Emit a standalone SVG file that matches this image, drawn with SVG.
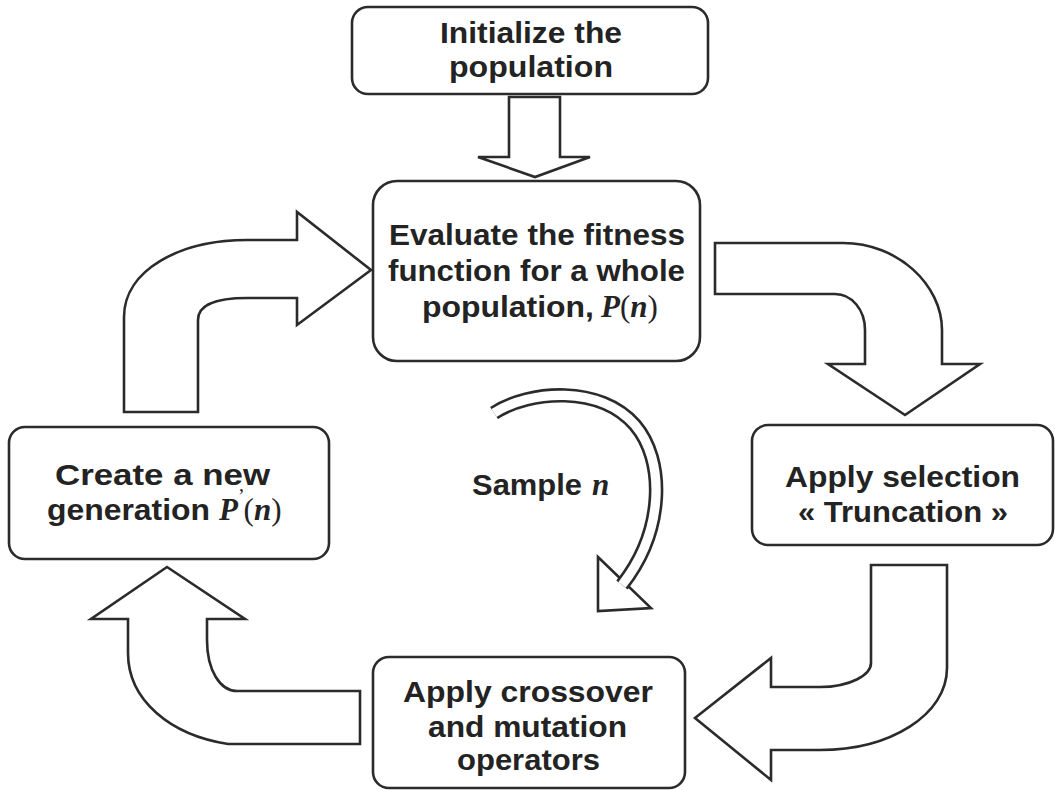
<svg xmlns="http://www.w3.org/2000/svg" width="1055" height="790" viewBox="0 0 1055 790">
  <style>
    .box { fill: #ffffff; stroke: #2b2b2b; stroke-width: 2.6; }
    .arrow { fill: #ffffff; stroke: #2b2b2b; stroke-width: 2.6; stroke-linejoin: miter; }
    .lbl { font-family: "Liberation Sans", Arial, sans-serif; font-weight: bold; font-size: 30px; fill: #232323; }
    .math { font-family: "Liberation Serif", "Times New Roman", serif; font-size: 31px; fill: #232323; }
    .mi { font-style: italic; font-weight: bold; }
  </style>
  <rect width="1055" height="790" fill="#ffffff"/>

  <!-- connectors: block arrows forming the loop -->
  <g id="connectors">
    <!-- init -> evaluate -->
    <path class="arrow" d="M509,97 L560,97 L560,157 L590,157 L535,177 L478,157 L509,157 Z"/>
    <!-- evaluate -> selection -->
    <path class="arrow" d="M715,243 L843,243 C898,243 942,285 942,330 L942,364 L980,364 L905,415 L828,364 L865,364 L865,330 C865,310 852,294 835,294 L715,294 Z"/>
    <!-- selection -> crossover -->
    <path class="arrow" d="M871,565 L947,565 L947,668 C947,715 890,750 820,750 L771,750 L771,780 L695,718 L771,658 L771,687 L820,687 C850,687 871,675 871,663 Z"/>
    <!-- crossover -> new generation -->
    <path class="arrow" d="M167,567 L245,619 L207,619 L207,640 C207,670 220,691 237,691 L360,691 L360,744 L228,744 C170,735 128,700 128,653 L128,619 L91,619 Z"/>
    <!-- new generation -> evaluate -->
    <path class="arrow" d="M124,412 L124,317 C124,270 180,240 247,240 L297,240 L297,212 L371,270 L297,325 L297,298 L247,298 C215,298 198,305 198,320 L198,412 Z"/>
    <!-- sampling loop indicator -->
    <g id="sample-loop">
      <polygon class="arrow" points="598,557 651,608 598,611"/>
      <path d="M494,413 C530,390 600,385 635,425 C665,460 665,530 622,585" fill="none" stroke="#2b2b2b" stroke-width="14.5"/>
      <path d="M494,413 C530,390 600,385 635,425 C665,460 665,530 622,585" fill="none" stroke="#ffffff" stroke-width="9.3"/>
    </g>
  </g>

  <g id="node-init">
    <rect class="box" x="352" y="7" width="356" height="87" rx="16"/>
    <text class="lbl" x="440" y="43" textLength="182" lengthAdjust="spacingAndGlyphs">Initialize the</text>
    <text class="lbl" x="449" y="77" textLength="164" lengthAdjust="spacingAndGlyphs">population</text>
  </g>

  <g id="node-evaluate">
    <rect class="box" x="373" y="181" width="327" height="180" rx="24"/>
    <text class="lbl" x="389" y="245" textLength="296" lengthAdjust="spacingAndGlyphs">Evaluate the fitness</text>
    <text class="lbl" x="388" y="281" textLength="297" lengthAdjust="spacingAndGlyphs">function for a whole</text>
    <text class="lbl" x="422" y="317" textLength="172" lengthAdjust="spacingAndGlyphs">population,</text>
    <text class="math" x="601" y="317"><tspan class="mi">P</tspan>(<tspan class="mi">n</tspan>)</text>
  </g>

  <g id="node-selection">
    <rect class="box" x="752" y="425" width="301" height="120" rx="16"/>
    <text class="lbl" x="785" y="487" textLength="235" lengthAdjust="spacingAndGlyphs">Apply selection</text>
    <text class="lbl" x="798" y="522" textLength="210" lengthAdjust="spacingAndGlyphs">« Truncation »</text>
  </g>

  <g id="node-crossover">
    <rect class="box" x="373" y="657" width="312" height="131" rx="16"/>
    <text class="lbl" x="403" y="702" textLength="250" lengthAdjust="spacingAndGlyphs">Apply crossover</text>
    <text class="lbl" x="428" y="737" textLength="199" lengthAdjust="spacingAndGlyphs">and mutation</text>
    <text class="lbl" x="457" y="770" textLength="143" lengthAdjust="spacingAndGlyphs">operators</text>
  </g>

  <g id="node-generation">
    <rect class="box" x="9" y="427" width="320" height="132" rx="16"/>
    <text class="lbl" x="55" y="485" textLength="215" lengthAdjust="spacingAndGlyphs">Create a new</text>
    <text class="lbl" x="47" y="520" textLength="163" lengthAdjust="spacingAndGlyphs">generation</text>
    <text class="math" x="219" y="520"><tspan class="mi">P</tspan><tspan font-size="20" dy="-17">’</tspan><tspan dy="17" dx="-1">(</tspan><tspan class="mi">n</tspan>)</text>
  </g>

  <g id="label-sample">
    <text class="lbl" x="472" y="495" font-size="28" textLength="110" lengthAdjust="spacingAndGlyphs">Sample</text>
    <text class="math mi" x="592" y="495" font-size="30">n</text>
  </g>
</svg>
